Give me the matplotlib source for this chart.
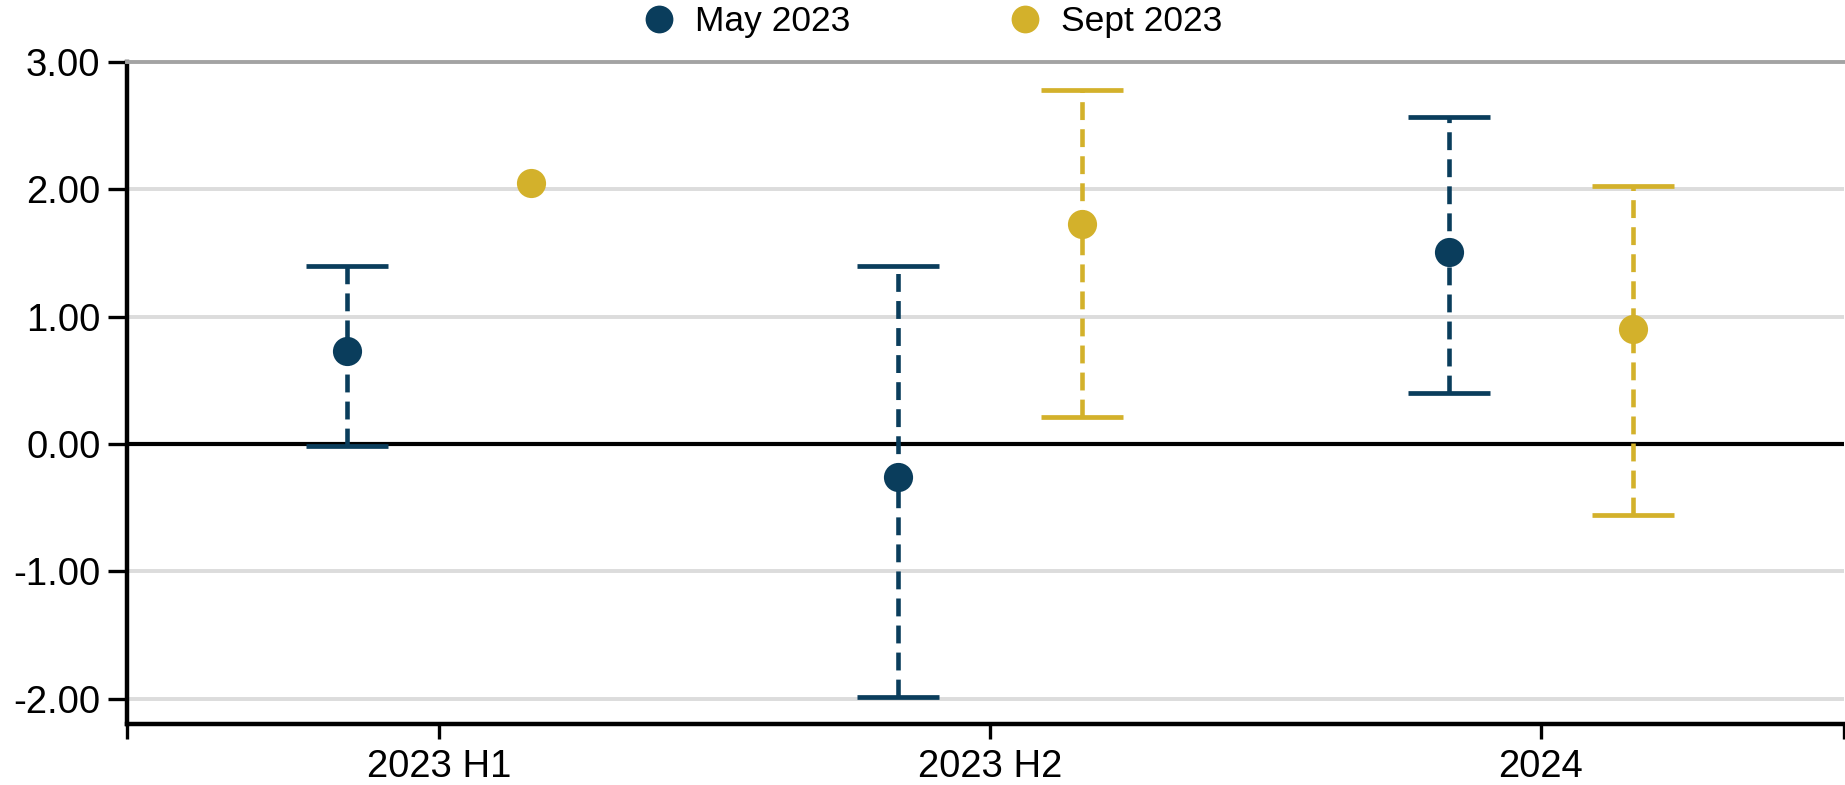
import numpy as np
import matplotlib.pyplot as plt
from matplotlib.lines import Line2D

plt.rcParams['font.family'] = ['Liberation Sans', 'DejaVu Sans']

# periods and forecast values
periods = ["2023 H1", "2023 H2", "2024"]

may_mid = [0.73, -0.26, 1.51]
may_low = [-0.02, -1.99, 0.40]
may_high = [1.40, 1.40, 2.57]

sept_mid = [2.05, 1.73, 0.90]
sept_low = [2.05, 0.21, -0.56]
sept_high = [2.05, 2.78, 2.03]

navy = "#0A3D5C"
gold = "#D3B12B"

fig = plt.figure(figsize=(18.45, 7.85), dpi=100)
ax = fig.add_axes([0.0688, 0.0777, 0.9307, 0.8433])

x = np.arange(len(periods))
off = 1 / 6


def draw(xpos, mid, low, high, color):
    mid = np.array(mid)
    low = np.array(low)
    high = np.array(high)
    yerr = [mid - low, high - mid]
    has_bar = (high - low) > 0
    # error bars only where a range exists
    eb = ax.errorbar(xpos[has_bar], mid[has_bar],
                     yerr=[yerr[0][has_bar], yerr[1][has_bar]],
                     fmt="none", ecolor=color, elinewidth=3.3,
                     capsize=29.5, capthick=3.4, zorder=3)
    eb[2][0].set_linestyle((0, (3.9, 2.0)))
    ax.plot(xpos, mid, "o", color=color, markersize=21,
            markeredgewidth=0, zorder=4)


draw(x - off, may_mid, may_low, may_high, navy)
draw(x + off, sept_mid, sept_low, sept_high, gold)

ax.set_xlim(-0.566, 2.55)
ax.set_ylim(-2.2, 3.0)

yt = [-2, -1, 0, 1, 2, 3]
ax.set_yticks(yt)
ax.set_yticklabels([f"{v:.2f}" for v in yt])
for v in yt:
    if v == 0:
        ax.axhline(0, color="black", lw=3.0, zorder=2)
    elif v != 3:
        ax.axhline(v, color="#dcdcdc", lw=2.8, zorder=1)

ax.set_xticks(x)
ax.set_xticklabels(periods)
ax.set_xticks([-0.566, 2.55], minor=True)

ax.tick_params(axis="y", length=14, width=2.4, labelsize=27.5, pad=5)
ax.tick_params(axis="x", which="both", length=11, width=2.4,
               labelsize=27.5, pad=7)

for s in ["left", "bottom"]:
    ax.spines[s].set_linewidth(3.2)
    ax.spines[s].set_color("black")
ax.spines["right"].set_visible(False)
ax.spines["top"].set_color("#a3a3a3")
ax.spines["top"].set_linewidth(2.8)

handles = [
    Line2D([], [], marker="o", ls="none", color=navy, markersize=20,
           markeredgewidth=0),
    Line2D([], [], marker="o", ls="none", color=gold, markersize=20,
           markeredgewidth=0),
]
fig.legend(handles, ["May 2023", "Sept 2023"], loc="center",
           bbox_to_anchor=(0.505, 0.972), ncol=2, frameon=False,
           fontsize=25.5, handletextpad=0.5, columnspacing=4.45,
           handlelength=1.0)

fig.savefig("out.png", dpi=100)
